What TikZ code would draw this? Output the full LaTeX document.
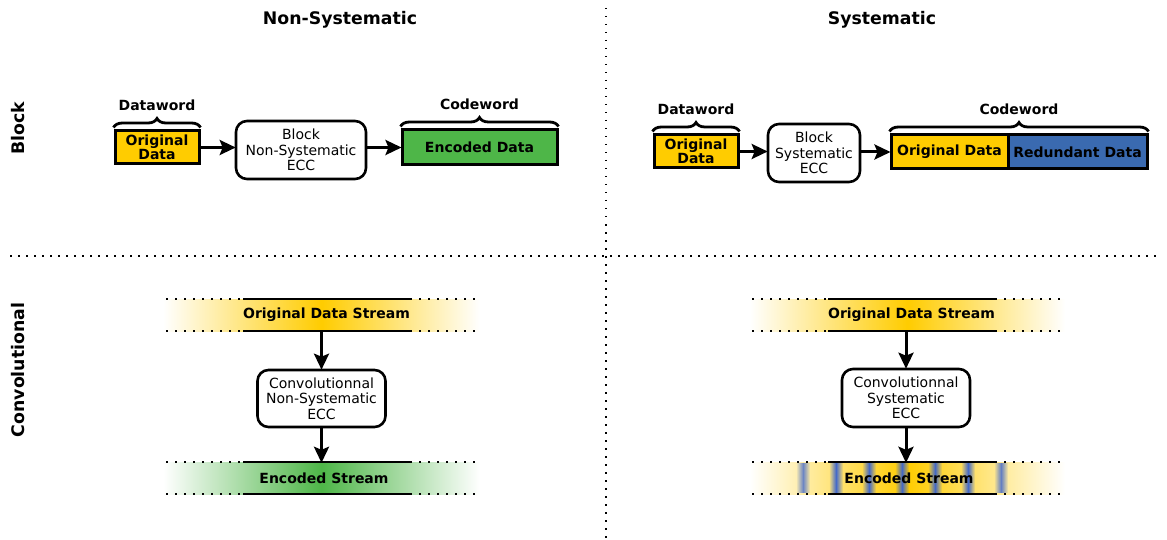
\documentclass[tikz,border=0pt]{standalone}
\usepackage{fontspec}
\setmainfont{DejaVu Sans}
\usetikzlibrary{arrows.meta,decorations.pathreplacing,fadings,calc}
\definecolor{dyellow}{RGB}{255,204,0}
\definecolor{dgreen}{RGB}{78,182,72}
\definecolor{dblue}{RGB}{58,106,176}
\definecolor{sblue}{RGB}{60,100,205}
\tikzfading[name=stripefade, left color=transparent!100, right color=transparent!100, middle color=transparent!0]
\begin{document}
\begin{tikzpicture}[x=1pt,y=-1pt,
  databox/.style={draw, line width=3pt, fill=dyellow, align=center, inner sep=0pt,
     font=\bfseries\fontsize{14}{14}\selectfont},
  ecc/.style={draw, line width=2.6pt, rounded corners=11pt, fill=white, align=center, inner sep=0pt,
     font=\fontsize{14}{15.5}\selectfont},
  arr/.style={-{Stealth[length=16pt,width=15pt,inset=3pt]}, line width=3pt, shorten >=-1pt},
  brc/.style={decorate, decoration={brace, amplitude=9pt}, line width=2.8pt},
  lbl/.style={font=\bfseries\fontsize{14}{15}\selectfont},
  title/.style={font=\bfseries\fontsize{17.3}{19}\selectfont},
  solidline/.style={line width=2.2pt},
  dotline/.style={line width=2pt, dash pattern=on 2pt off 7pt},
  sepline/.style={line width=1.5pt, dash pattern=on 1.5pt off 6.5pt},
  band/.style={inner sep=0pt, shading=axis, left color=white, right color=white}
]
\useasboundingbox (0,0) rectangle (1167,540);

% separators
\draw[sepline] (606,8) -- (606,540);
\draw[sepline] (10,256) -- (1162,256);

% titles
\node[title] (t1) at (340,20) {Non-Systematic};
\node[title] (t2) at (882,20) {Systematic};
\node[title, rotate=90] (r1) at (18,128) {Block};
\node[title, rotate=90] (r2) at (18,370) {Convolutional};

% ---------- Block, non-systematic
\node[databox, minimum width=84pt, minimum height=33pt] (od1) at (157,147.5) {Original\\Data};
\node[ecc, minimum width=130pt, minimum height=58pt] (ecc1) at (301,150) {Block\\Non-Systematic\\ECC};
\node[databox, fill=dgreen, minimum width=155pt, minimum height=35pt] (enc1) at (479.5,147.5) {Encoded Data};
\draw[arr] (od1.east) -- (od1.east -| ecc1.west);
\draw[arr] (enc1.west -| ecc1.east) -- (enc1.west);
\draw[brc] ([yshift=2pt]od1.north west) -- coordinate[yshift=13pt] (b1) ([yshift=2pt]od1.north east);
\node[lbl, above] (dw1) at (b1) {Dataword};
\draw[brc] ([yshift=2pt]enc1.north west) -- coordinate[yshift=13pt] (b2) ([yshift=2pt]enc1.north east);
\node[lbl, above] (cw1l) at (b2) {Codeword};

% ---------- Block, systematic
\node[databox, minimum width=84pt, minimum height=33pt] (od2) at (696,151.5) {Original\\Data};
\node[ecc, minimum width=92pt, minimum height=58pt] (ecc2) at (814,153) {Block\\Systematic\\ECC};
\node[databox, minimum width=117pt, minimum height=34pt] (cwa) at (949.5,152) {Original Data};
\node[databox, fill=dblue, minimum width=139pt, minimum height=34pt] (cwb) at (1077.5,152) {Redundant Data};
\draw[arr] (od2.east) -- (od2.east -| ecc2.west);
\draw[arr] (cwa.west -| ecc2.east) -- (cwa.west);
\draw[brc] ([yshift=2pt]od2.north west) -- coordinate[yshift=13pt] (b3) ([yshift=2pt]od2.north east);
\node[lbl, above] (dw2) at (b3) {Dataword};
\draw[brc] ([yshift=2pt]cwa.north west) -- coordinate[yshift=13pt] (b4) ([yshift=2pt]cwb.north east);
\node[lbl, above] (cw2l) at (b4) {Codeword};

% ---------- Convolutional, non-systematic
\node[band, middle color=dyellow, minimum width=317pt, minimum height=32pt] (s1) at (321.5,315) {};
\node[lbl] (s1t) at (326.5,315) {Original Data Stream};
\draw[solidline] (243,299) -- (410,299) (243,331) -- (410,331);
\draw[dotline] (166,299) -- (243,299) (410,299) -- (480,299)
               (166,331) -- (243,331) (410,331) -- (480,331);
\node[ecc, minimum width=128pt, minimum height=57pt] (cc1) at (321.5,398.5) {Convolutionnal\\Non-Systematic\\ECC};
\node[band, middle color=dgreen, minimum width=317pt, minimum height=32pt] (e1) at (321.5,478) {};
\node[lbl] (e1t) at (324,478) {Encoded Stream};
\draw[solidline] (243,462) -- (410,462) (243,494) -- (410,494);
\draw[dotline] (166,462) -- (243,462) (410,462) -- (480,462)
               (166,494) -- (243,494) (410,494) -- (480,494);
\draw[arr] (s1.south) -- (cc1.north |- s1.south) -- (cc1.north);
\draw[arr] (cc1.south) -- (cc1.south |- e1.north);

% ---------- Convolutional, systematic
\node[band, middle color=dyellow, minimum width=315pt, minimum height=32pt] (s2) at (907.5,315) {};
\node[lbl] (s2t) at (911.5,315) {Original Data Stream};
\draw[solidline] (828,299) -- (995,299) (828,331) -- (995,331);
\draw[dotline] (752,299) -- (828,299) (995,299) -- (1065,299)
               (752,331) -- (828,331) (995,331) -- (1065,331);
\node[ecc, minimum width=128pt, minimum height=58pt] (cc2) at (906,398) {Convolutionnal\\Systematic\\ECC};
\node[band, middle color=dyellow, minimum width=315pt, minimum height=32pt] (e2) at (907.5,478) {};
\foreach \sx/\op in {803/0.75,836/0.95,869/0.95,902/0.95,935/0.95,968/0.95,1001/0.8}
  \fill[sblue, opacity=\op, path fading=stripefade] (\sx-7,463) rectangle (\sx+7,493);
\node[lbl] (e2t) at (909,478) {Encoded Stream};
\draw[solidline] (828,462) -- (995,462) (828,494) -- (995,494);
\draw[dotline] (752,462) -- (828,462) (995,462) -- (1065,462)
               (752,494) -- (828,494) (995,494) -- (1065,494);
\draw[arr] (cc2.north |- s2.south) -- (cc2.north);
\draw[arr] (cc2.south) -- (cc2.south |- e2.north);
\end{tikzpicture}
\end{document}
